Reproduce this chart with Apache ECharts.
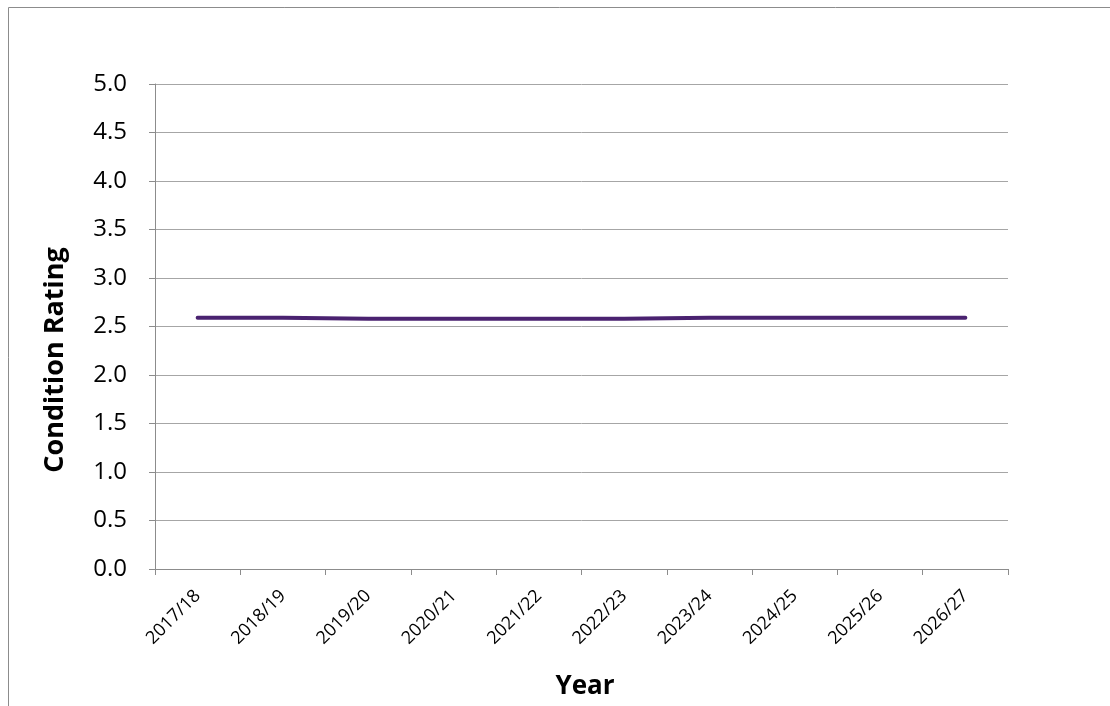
<!DOCTYPE html>
<html>
<head>
<meta charset="utf-8">
<script src="https://cdn.jsdelivr.net/npm/echarts@6/dist/echarts.min.js"></script>
<style>
  html, body { margin: 0; padding: 0; background: #fff; }
  #chart { width: 1110px; height: 706px; }
</style>
</head>
<body>
<div id="chart"></div>
<script>
// Financial years along the category axis
const years = ['2017/18', '2018/19', '2019/20', '2020/21', '2021/22',
               '2022/23', '2023/24', '2024/25', '2025/26', '2026/27'];
// Average condition rating for each year
const conditionRating = [2.59, 2.59, 2.58, 2.58, 2.58, 2.58, 2.59, 2.59, 2.59, 2.59];
// Y-axis range and step
const yMin = 0, yMax = 5, yStep = 0.5;
// Axis titles
const xTitle = 'Year';
const yTitle = 'Condition Rating';

const font = '"Open Sans", "Noto Sans", sans-serif';
const chart = echarts.init(document.getElementById('chart'), null, { renderer: 'canvas' });

chart.setOption({
  backgroundColor: '#ffffff',
  animation: false,
  graphic: [
    {
      type: 'rect',
      shape: { x: 8.5, y: 7.5, width: 1200, height: 800 },
      style: { fill: 'none', stroke: '#8c8c8c', lineWidth: 1 },
      silent: true
    },
    {
      type: 'text',
      x: 55, y: 360,
      rotation: Math.PI / 2,
      style: {
        text: yTitle, fontFamily: font, fontWeight: 'bold', fontSize: 27,
        fill: '#000', align: 'center', verticalAlign: 'middle'
      },
      silent: true
    },
    {
      type: 'text',
      x: 585, y: 687,
      style: {
        text: xTitle, fontFamily: font, fontWeight: 'bold', fontSize: 26,
        fill: '#000', align: 'center', verticalAlign: 'middle'
      },
      silent: true
    }
  ],
  grid: { left: 155, right: 102, top: 84, bottom: 137 },
  xAxis: {
    type: 'category',
    data: years,
    boundaryGap: true,
    axisLine: { lineStyle: { color: '#8c8c8c', width: 1 } },
    axisTick: { show: true, length: 6, alignWithLabel: false, lineStyle: { color: '#8c8c8c' } },
    axisLabel: { rotate: 45, margin: 24, fontFamily: font, fontSize: 18, color: '#000' },
    splitLine: { show: false }
  },
  yAxis: {
    type: 'value',
    min: yMin,
    max: yMax,
    interval: yStep,
    axisLine: { show: true, lineStyle: { color: '#8c8c8c', width: 1 } },
    axisTick: { show: true, length: 6, lineStyle: { color: '#8c8c8c' } },
    axisLabel: {
      margin: 28,
      fontFamily: font,
      fontSize: 24,
      color: '#000',
      formatter: v => v.toFixed(1)
    },
    splitLine: { show: true, lineStyle: { color: '#a6a6a6', width: 1 } }
  },
  series: [{
    type: 'line',
    data: conditionRating,
    symbol: 'none',
    smooth: false,
    lineStyle: { color: '#4a2270', width: 4, cap: 'round' }
  }]
});
</script>
</body>
</html>
